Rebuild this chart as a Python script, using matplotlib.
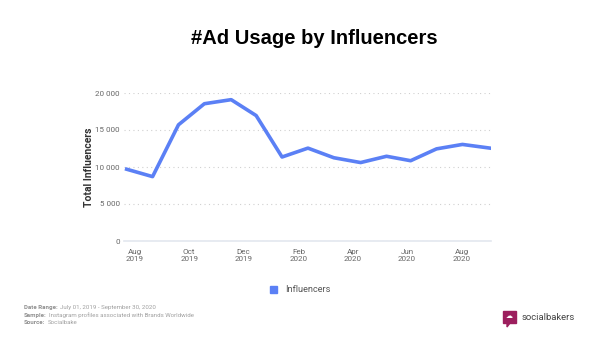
import matplotlib.pyplot as plt
import matplotlib.patches as mpatches
from matplotlib.ticker import FuncFormatter
import pandas as pd

dates = ["2019-07-23", "2019-08-21", "2019-09-19", "2019-10-18", "2019-11-17",
         "2019-12-15", "2020-01-13", "2020-02-11", "2020-03-11", "2020-04-10",
         "2020-05-09", "2020-06-05", "2020-07-04", "2020-08-02", "2020-09-02"]
influencers = [9700, 8700, 15700, 18550, 19100, 16950, 11350, 12550, 11250,
               10600, 11450, 10850, 12450, 13050, 12550]
tick_dates = ["2019-08-01", "2019-10-01", "2019-12-01", "2020-02-01",
              "2020-04-01", "2020-06-01", "2020-08-01"]
tick_labels = ["Aug\n2019", "Oct\n2019", "Dec\n2019", "Feb\n2020",
               "Apr\n2020", "Jun\n2020", "Aug\n2020"]

plt.rcParams['font.family'] = ['Roboto', 'DejaVu Sans']

x = pd.to_datetime(dates)
fig = plt.figure(figsize=(6.02, 3.39), dpi=100)
ax = fig.add_axes([124 / 602, 1 - 241 / 339, (491 - 124) / 602, (241 - 93) / 339])

ax.plot(x, influencers, color="#5b80f5", lw=2.6, solid_joinstyle="round", zorder=3)

ax.set_ylim(0, 20000)
ax.set_yticks([0, 5000, 10000, 15000, 20000])
ax.yaxis.set_major_formatter(FuncFormatter(lambda v, p: f"{int(v):,}".replace(",", " ")))
ax.set_xlim(pd.Timestamp("2019-07-20"), pd.Timestamp("2020-09-03"))
ax.set_xticks(pd.to_datetime(tick_dates))
ax.set_xticklabels(tick_labels)

ax.grid(axis="y", color="#d0d0d0", linestyle=(0, (1, 3)), lw=0.8)
for s in ["top", "right", "left"]:
    ax.spines[s].set_visible(False)
ax.spines["bottom"].set_color("#e3e7ef")
ax.spines["bottom"].set_linewidth(1.2)
ax.tick_params(axis="both", length=0, labelsize=5.8, colors="#666666", pad=3)
ax.tick_params(axis="x", pad=6)
ax.set_ylabel("Total Influencers", fontsize=7.5, fontweight="bold", color="#333333", labelpad=1)

fig.text(314 / 602, 1 - 38 / 339, "#Ad Usage by Influencers", ha="center", va="center",
         fontsize=14.5, fontweight="bold", family=["Liberation Sans", "DejaVu Sans"])

# legend
fig.patches.append(mpatches.Rectangle((270 / 602, 1 - 293 / 339), 7 / 602, 7 / 339,
                                      transform=fig.transFigure, color="#5b80f5"))
fig.text(285 / 602, 1 - 289.5 / 339, "Influencers", fontsize=6.6, color="#555555", va="center")

# footer
foot = [("Date Range:", "July 01, 2019 - September 30, 2020", 307),
        ("Sample:", "Instagram profiles associated with Brands Worldwide", 315),
        ("Source:", "Socialbake", 323)]
for label, value, yy in foot:
    t = fig.text(24 / 602, 1 - yy / 339, label, fontsize=4.4, fontweight="bold",
                 color="#8f8f8f", va="center")
    fig.canvas.draw()
    bb = t.get_window_extent()
    fig.text((bb.x1 + 2) / 602, 1 - yy / 339, value, fontsize=4.4, color="#a0a0a0", va="center")

# logo
fig.patches.append(mpatches.Rectangle((503 / 602, 1 - 323 / 339), 13 / 602, 12 / 339,
                                      transform=fig.transFigure, color="#9c1f5e"))
fig.patches.append(mpatches.Polygon([(507 / 602, 1 - 323 / 339), (510 / 602, 1 - 323 / 339),
                                     (507 / 602, 1 - 327 / 339)],
                                    transform=fig.transFigure, color="#9c1f5e"))
fig.text(509.5 / 602, 1 - 317 / 339, "\u2601", fontsize=5, color="white", ha="center", va="center")
fig.text(522 / 602, 1 - 317 / 339, "socialbakers", fontsize=6.8, color="#444444", va="center")

fig.savefig("out.png", dpi=100)
